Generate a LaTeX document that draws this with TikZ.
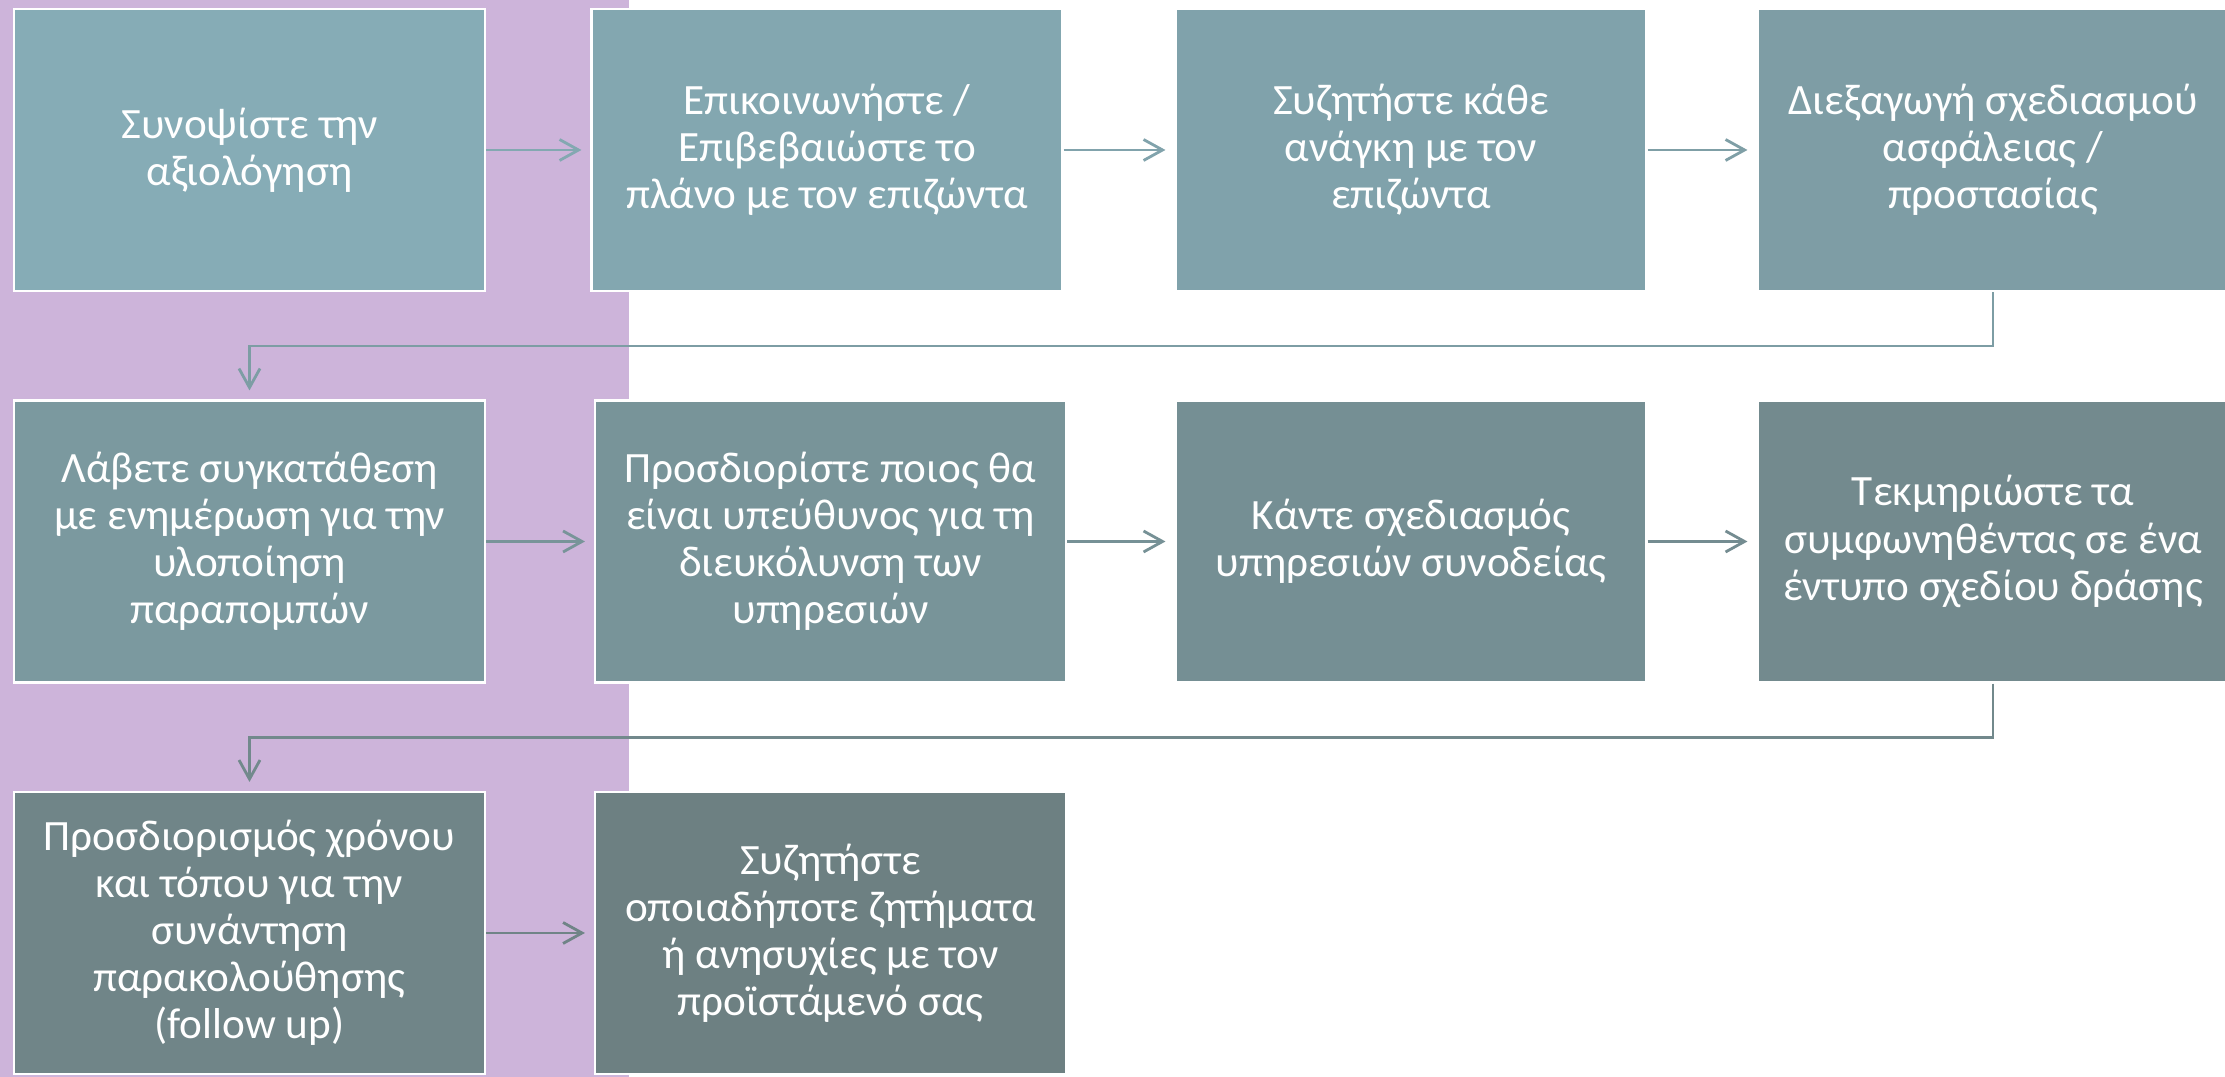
\documentclass[tikz,border=0pt]{standalone}
\usepackage{fontspec}
\setmainfont{Carlito}
\usetikzlibrary{arrows.meta}

\definecolor{lilac}{RGB}{205,180,218}
\definecolor{tealA}{RGB}{134,172,182}
\definecolor{tealB}{RGB}{109,128,130}

\begin{document}
\begin{tikzpicture}[x=0.1mm,y=-0.1mm,
  stepbox/.style={fill=tealB!#1!tealA, draw=white, line width=0.6pt,
    minimum width=47.1mm, minimum height=28.2mm, inner sep=0pt,
    text=white, align=center, font=\fontsize{12.3}{13.4}\selectfont},
  link/.style={draw=tealB!#1!tealA, line width=0.8pt,
    -{Straight Barb[length=1.9mm,width=2.1mm]}, shorten >=0.9mm}]
%\draw[help lines] (0,0) grid (2225,1077);

\fill[white] (0,0) rectangle (2225,1077);
\fill[lilac] (0,0) rectangle (629,1077);
\useasboundingbox (0,0) rectangle (2225,1077);

% first row
\node[stepbox=0]  (summary) at (249.5,150) {Συνοψίστε την\\αξιολόγηση};
\node[stepbox=11] (confirm) at (827,150) {Επικοινωνήστε /\\Επιβεβαιώστε το\\πλάνο με τον επιζώντα};
\node[stepbox=22] (discuss) at (1411,150) {Συζητήστε κάθε\\ανάγκη με τον\\επιζώντα};
\node[stepbox=33] (safety)  at (1993,150) {Διεξαγωγή σχεδιασμού\\ασφάλειας /\\προστασίας};

% second row
\node[stepbox=44] (consent)     at (249.5,541.5) {Λάβετε συγκατάθεση\\με ενημέρωση για την\\υλοποίηση\\παραπομπών};
\node[stepbox=55] (responsible) at (830.5,541.5) {Προσδιορίστε ποιος θα\\είναι υπεύθυνος για τη\\διευκόλυνση των\\υπηρεσιών};
\node[stepbox=66] (escort)      at (1411,541.5) {Κάντε σχεδιασμός\\υπηρεσιών συνοδείας};
\node[stepbox=77] (record)      at (1993,541.5) {Τεκμηριώστε τα\\συμφωνηθέντας σε ένα\\έντυπο σχεδίου δράσης};

% third row
\node[stepbox=88]  (followup)   at (249.5,933) {Προσδιορισμός χρόνου\\και τόπου για την\\συνάντηση\\παρακολούθησης\\(follow up)};
\node[stepbox=100] (supervisor) at (830.5,933) {Συζητήστε\\οποιαδήποτε ζητήματα\\ή ανησυχίες με τον\\προϊστάμενό σας};

\draw[link=10] (summary.east) -- (confirm.west);
\draw[link=20] (confirm.east) -- (discuss.west);
\draw[link=30] (discuss.east) -- (safety.west);
\draw[link=35] (safety.south) -- ++(0,54) -| (consent.north);
\draw[link=55] (consent.east) -- (responsible.west);
\draw[link=62] (responsible.east) -- (escort.west);
\draw[link=72] (escort.east) -- (record.west);
\draw[link=80] (record.south) -- ++(0,54) -| (followup.north);
\draw[link=90] (followup.east) -- (supervisor.west);

\end{tikzpicture}
\end{document}
